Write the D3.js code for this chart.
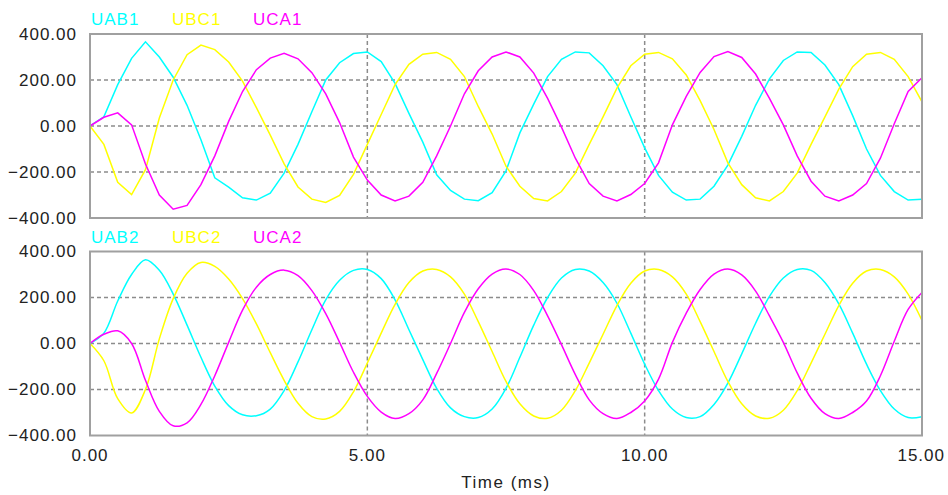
<!DOCTYPE html>
<html>
<head>
<meta charset="utf-8">
<script src="https://cdn.jsdelivr.net/npm/d3@7"></script>
<style>
  body { margin: 0; background: #fff; }
  text { font-family: "Liberation Sans", Arial, sans-serif; }
</style>
</head>
<body>
<div id="chart-area"></div>
<script>
// sample step in ms, samples run from 0 to 15 ms
var step = 0.25;
var xTicks = [0, 5, 10, 15];
var yTicks = [-400, -200, 0, 200, 400];
var gridY = [-200, 0, 200];
var gridX = [5, 10];

var names1 = ['UAB1', 'UBC1', 'UCA1'];
var names2 = ['UAB2', 'UBC2', 'UCA2'];

// upper plot (rippled)
var uab1 = [0, 40, 180, 294, 366, 300, 212, 90, -60, -225, -266, -312, -322, -292, -205, -80,
  62, 200, 275, 315, 322, 280, 185, 55, -70, -212, -280, -318, -325, -290, -195, -30,
  95, 215, 290, 322, 318, 262, 180, 40, -95, -215, -288, -322, -318, -262, -170, -45,
  90, 205, 285, 322, 320, 265, 180, 45, -100, -215, -285, -322, -318];
var ubc1 = [0, -80, -245, -298, -190, 35, 200, 310, 352, 332, 278, 195, 80, -40, -165, -265,
  -318, -332, -302, -210, -80, 50, 180, 268, 312, 320, 290, 215, 85, -35, -175, -262,
  -315, -326, -285, -205, -80, 40, 165, 262, 312, 320, 292, 222, 110, -15, -160, -255,
  -312, -326, -285, -205, -80, 40, 160, 258, 312, 320, 290, 215, 105];
var uca1 = [0, 38, 57, 5, -165, -300, -362, -345, -255, -130, 20, 150, 245, 295, 316, 292,
  232, 140, 15, -135, -235, -300, -326, -305, -245, -130, 0, 140, 240, 300, 322, 300,
  230, 120, -5, -140, -250, -305, -326, -298, -250, -160, 5, 129, 233, 302, 324, 298,
  226, 120, 5, -130, -240, -305, -326, -300, -250, -140, 10, 150, 210];

// lower plot (smooth)
var uab2 = [0, 45, 185, 300, 364, 318, 215, 80, -60, -185, -270, -310, -314, -285, -205, -80,
  60, 190, 275, 318, 322, 282, 190, 60, -70, -195, -280, -318, -322, -285, -195, -60,
  80, 200, 285, 322, 315, 265, 175, 45, -90, -205, -285, -322, -318, -265, -172, -45,
  88, 205, 285, 322, 318, 265, 172, 45, -90, -205, -285, -322, -318];
var ubc2 = [0, -75, -240, -302, -200, 20, 195, 305, 352, 335, 280, 195, 85, -40, -160, -260,
  -318, -328, -295, -210, -85, 45, 170, 265, 315, 322, 290, 215, 95, -35, -165, -262,
  -315, -325, -290, -205, -85, 40, 165, 262, 315, 322, 290, 215, 95, -35, -165, -262,
  -315, -325, -290, -205, -85, 40, 165, 262, 315, 322, 290, 215, 100];
var uca2 = [0, 40, 55, 0, -160, -295, -358, -345, -265, -140, 5, 145, 245, 300, 319, 295,
  230, 130, 5, -125, -230, -298, -326, -305, -245, -130, 0, 135, 238, 302, 324, 300,
  230, 120, -5, -135, -245, -305, -326, -300, -250, -155, 5, 132, 235, 302, 324, 298,
  228, 120, 5, -128, -238, -305, -326, -300, -250, -140, 10, 148, 222];

var colors = ['#00ffff', '#ffff00', '#ff00ff'];

var W = 948, H = 495;
var left = 90, right = 922;
var panels = [
  { top: 34, bottom: 218, names: names1, series: [uab1, ubc1, uca1], curve: d3.curveLinear },
  { top: 251.5, bottom: 435.5, names: names2, series: [uab2, ubc2, uca2], curve: d3.curveCatmullRom }
];

var svg = d3.select('#chart-area')
  .append('svg')
    .attr('width', W)
    .attr('height', H);

svg.append('rect').attr('width', W).attr('height', H).attr('fill', '#fff');

var x = d3.scaleLinear().domain([0, 15]).range([left, right]);
var fmt = d3.format('.2f');

panels.forEach(function(p, pi) {
  var y = d3.scaleLinear().domain([-400, 400]).range([p.bottom, p.top]);
  var g = svg.append('g');

  // clip for the traces
  svg.append('clipPath').attr('id', 'clip' + pi)
    .append('rect')
      .attr('x', left).attr('y', p.top)
      .attr('width', right - left).attr('height', p.bottom - p.top);

  // dashed grid
  g.selectAll('.hgrid').data(gridY).enter().append('line')
    .attr('x1', left).attr('x2', right)
    .attr('y1', function(d) { return y(d) }).attr('y2', function(d) { return y(d) })
    .attr('stroke', '#8c8c8c').attr('stroke-width', 1.5).attr('stroke-dasharray', '4,3');
  g.selectAll('.vgrid').data(gridX).enter().append('line')
    .attr('y1', p.top).attr('y2', p.bottom)
    .attr('x1', function(d) { return x(d) }).attr('x2', function(d) { return x(d) })
    .attr('stroke', '#8c8c8c').attr('stroke-width', 1.5).attr('stroke-dasharray', '4,3');

  // traces
  var line = d3.line()
    .x(function(d, i) { return x(i * step) })
    .y(function(d) { return y(d) })
    .curve(p.curve);
  g.selectAll('.trace').data(p.series).enter().append('path')
    .attr('clip-path', 'url(#clip' + pi + ')')
    .attr('fill', 'none')
    .attr('stroke', function(d, i) { return colors[i] })
    .attr('stroke-width', 1.5)
    .attr('d', line);

  // frame
  g.append('rect')
    .attr('x', left).attr('y', p.top)
    .attr('width', right - left).attr('height', p.bottom - p.top)
    .attr('fill', 'none').attr('stroke', '#a0a0a0').attr('stroke-width', 2);

  // y axis labels
  var yAxis = d3.axisLeft(y).tickValues(yTicks).tickSize(0).tickPadding(13).tickFormat(fmt);
  var ya = g.append('g').attr('transform', 'translate(' + left + ',0)').call(yAxis);
  ya.select('.domain').remove();
  ya.selectAll('text')
    .attr('font-size', '17px')
    .attr('letter-spacing', '1px')
    .attr('font-family', '"Liberation Sans", Arial, sans-serif')
    .attr('fill', '#222');

  // legend
  g.selectAll('.legend').data(p.names).enter().append('text')
    .attr('x', function(d, i) { return left + 1 + i * 81 })
    .attr('y', p.top - 9)
    .attr('font-size', '17px')
    .attr('letter-spacing', '1px')
    .attr('fill', function(d, i) { return colors[i] })
    .text(function(d) { return d });
});

// x axis labels
var xl = svg.append('g');
xl.selectAll('text').data(xTicks).enter().append('text')
  .attr('x', function(d) { return d === 15 ? W - 3 : x(d) })
  .attr('y', 461)
  .attr('text-anchor', function(d) { return d === 15 ? 'end' : 'middle' })
  .attr('font-size', '17px')
  .attr('letter-spacing', '1px')
  .attr('fill', '#222')
  .text(function(d) { return fmt(d) });

svg.append('text')
  .attr('x', (left + right) / 2)
  .attr('y', 488)
  .attr('text-anchor', 'middle')
  .attr('font-size', '17px')
  .attr('letter-spacing', '1.5px')
  .attr('fill', '#222')
  .text('Time (ms)');
</script>
</body>
</html>
